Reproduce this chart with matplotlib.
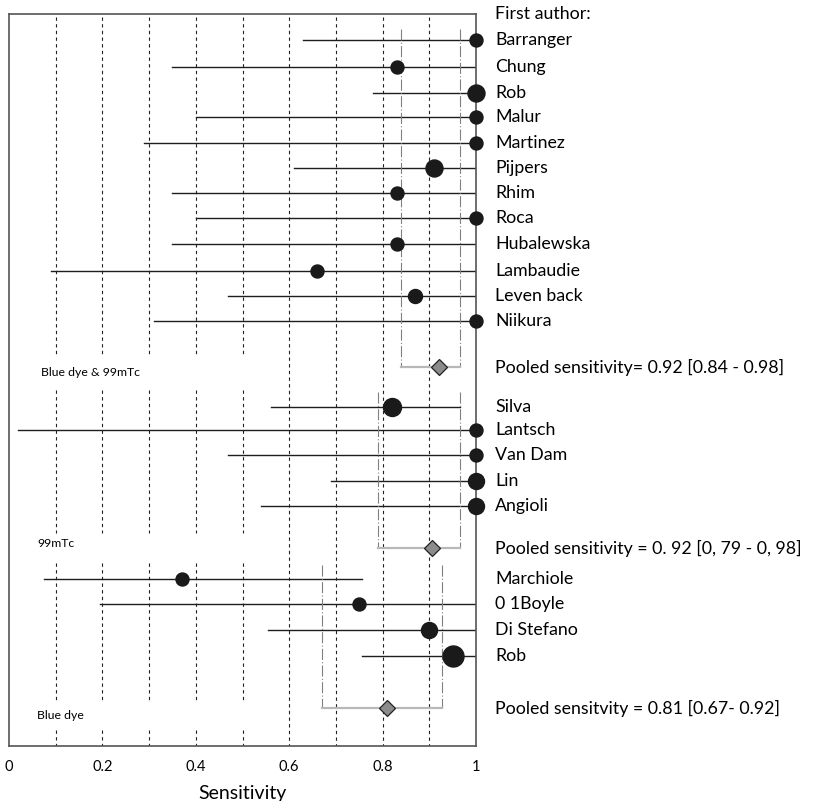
import matplotlib
matplotlib.use("Agg")
import matplotlib.pyplot as plt
from matplotlib.transforms import blended_transform_factory

plt.rcParams['font.family'] = ['Lato', 'DejaVu Sans']

# ---------------- data ----------------
authors_g1 = ["Barranger", "Chung", "Rob", "Malur", "Martinez", "Pijpers", "Rhim",
              "Roca", "Hubalewska", "Lambaudie", "Leven back", "Niikura"]
sens_g1 = [1.0, 0.83, 1.0, 1.0, 1.0, 0.91, 0.83, 1.0, 0.83, 0.66, 0.87, 1.0]
lo_g1 = [0.63, 0.35, 0.78, 0.40, 0.29, 0.61, 0.35, 0.40, 0.35, 0.09, 0.47, 0.31]
hi_g1 = [1.0, 1.0, 1.0, 1.0, 1.0, 1.0, 1.0, 1.0, 1.0, 1.0, 1.0, 1.0]
weight_g1 = [13, 13, 17, 13, 13, 17, 13, 13, 13, 13, 14, 13]

authors_g2 = ["Silva", "Lantsch", "Van Dam", "Lin", "Angioli"]
sens_g2 = [0.82, 1.0, 1.0, 1.0, 1.0]
lo_g2 = [0.56, 0.02, 0.47, 0.69, 0.54]
hi_g2 = [0.965, 1.0, 1.0, 1.0, 1.0]
weight_g2 = [18, 13, 13, 16, 16]

authors_g3 = ["Marchiole", "0 1Boyle", "Di Stefano", "Rob"]
sens_g3 = [0.37, 0.75, 0.90, 0.95]
lo_g3 = [0.075, 0.195, 0.555, 0.755]
hi_g3 = [0.755, 1.0, 1.0, 1.0]
weight_g3 = [13, 13, 16, 21]

group_names = ["Blue dye & 99mTc", "99mTc", "Blue dye"]
pooled = [0.92, 0.905, 0.81]
pooled_lo = [0.84, 0.79, 0.67]
pooled_hi = [0.965, 0.965, 0.927]
pooled_text = ["Pooled sensitivity= 0.92 [0.84 - 0.98]",
               "Pooled sensitivity = 0. 92 [0, 79 - 0, 98]",
               "Pooled sensitvity = 0.81 [0.67- 0.92]"]

xticks = [0, 0.2, 0.4, 0.6, 0.8, 1.0]
xtick_labels = ["0", "0.2", "0.4", "0.6", "0.8", "1"]
grid_x = [0.1, 0.2, 0.3, 0.4, 0.5, 0.6, 0.7, 0.8, 0.9]

# ---------------- layout (pixel-like row positions) ----------------
ypos_g1 = [40, 67, 93, 117, 143, 168, 193, 218, 244, 271, 296, 321]
ypos_g2 = [407, 430, 455, 481, 506]
ypos_g3 = [579, 604, 630, 656]
pooled_y = [367, 548, 708]
bracket_top = [29, 392, 565]
group_label_pos = [(0.068, 372), (0.060, 543), (0.060, 715)]

fig = plt.figure(figsize=(8.15, 8.01), dpi=100)
ax = fig.add_axes([9 / 815, 1 - 746 / 801, 467 / 815, 732 / 801])
ax.set_xlim(0, 1)
ax.set_ylim(746, 14)

# dashed gridlines (left ones interrupted at group label rows)
left_segments = [(17, 357), (390, 533), (563, 700), (730, 746)]
for gx in grid_x:
    if gx < 0.55:
        for a, b in left_segments:
            ax.plot([gx, gx], [a, b], color='#222222', lw=0.8, ls=(0, (3, 3)), zorder=1)
    else:
        ax.plot([gx, gx], [17, 746], color='#222222', lw=0.8, ls=(0, (3, 3)), zorder=1)

groups = [(sens_g1, lo_g1, hi_g1, weight_g1, ypos_g1, authors_g1),
          (sens_g2, lo_g2, hi_g2, weight_g2, ypos_g2, authors_g2),
          (sens_g3, lo_g3, hi_g3, weight_g3, ypos_g3, authors_g3)]

trans = blended_transform_factory(ax.transAxes, ax.transData)
FS = 12.8

for gi, (s, lo, hi, w, yp, names) in enumerate(groups):
    for si, loi, hii, wi, yi, nm in zip(s, lo, hi, w, yp, names):
        ax.plot([loi, hii], [yi, yi], color='#1e1e1e', lw=1.0, zorder=2)
        ax.plot([si], [yi], 'o', ms=wi / 1.389, color='#1a1a1a', zorder=4, clip_on=False)
        ax.text(1.041, yi, nm, transform=trans, fontsize=FS, va='center', ha='left',
                clip_on=False)
    # pooled bracket
    p, pl, ph, py, bt = pooled[gi], pooled_lo[gi], pooled_hi[gi], pooled_y[gi], bracket_top[gi]
    for bx in (pl, ph):
        ax.plot([bx, bx], [bt, py], color='#808080', lw=0.8, ls=(0, (10, 2, 1, 2)), zorder=2)
    ax.plot([pl, ph], [py, py], color='#b8b8b8', lw=1.6, zorder=2)
    ax.plot([p], [py], 'D', ms=8.5, mfc='#8c8c8c', mec='#222222', mew=0.9, zorder=5)
    ax.text(1.041, py, pooled_text[gi], transform=trans, fontsize=FS, va='center',
            ha='left', clip_on=False)
    gx_, gy_ = group_label_pos[gi]
    ax.text(gx_, gy_, group_names[gi], transform=trans, fontsize=8.8, va='center', ha='left')

ax.text(1.041, 14, "First author:", transform=trans, fontsize=FS, va='center', ha='left',
        clip_on=False)

for sp in ax.spines.values():
    sp.set_color('#555555')
    sp.set_linewidth(1.2)

ax.set_xticks(xticks)
ax.set_xticklabels(xtick_labels)
ax.set_yticks([])
ax.tick_params(axis='x', length=0, pad=10, labelsize=10.5)
ax.set_xlabel("Sensitivity", fontsize=14, labelpad=8)

fig.savefig("out.png", dpi=100)
